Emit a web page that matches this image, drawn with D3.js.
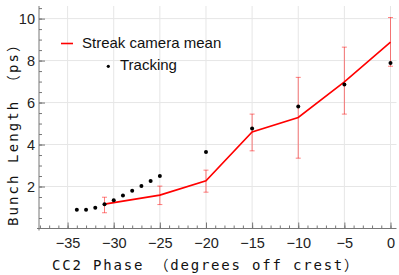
<!DOCTYPE html>
<html>
<head>
<meta charset="utf-8">
<script src="https://cdn.jsdelivr.net/npm/d3@7"></script>
<style>
  body { margin: 0; background: #fff; }
  svg { display: block; }
</style>
</head>
<body>
<div id="chart"></div>
<script>
// streak camera: phase, mean, error bar low/high
var streakPhase = [-31, -25, -20, -15, -10, -5, 0];
var streakMean  = [1.16, 1.59, 2.27, 4.6, 5.29, 6.99, 8.88];
var streakLow   = [0.75, 1.14, 1.73, 3.7, 3.35, 5.45, 7.73];
var streakHigh  = [1.49, 2.02, 2.78, 5.45, 7.2, 8.64, 10.05];

// tracking
var trackPhase = [-34, -33, -32, -31, -30, -29, -28, -27, -26, -25, -20, -15, -10, -5, 0];
var trackLen   = [0.89, 0.89, 0.99, 1.16, 1.35, 1.57, 1.8, 2.02, 2.26, 2.5, 3.64, 4.76, 5.81, 6.86, 7.89];

var xTicks = [-35, -30, -25, -20, -15, -10, -5, 0];
var yTicks = [2, 4, 6, 8, 10];

var W = 399, H = 275;
var svg = d3.select("#chart").append("svg").attr("width", W).attr("height", H);

// 画布范围
var x = d3.scaleLinear().domain([-38.1, 0.65]).range([39, 396.5]);
var y = d3.scaleLinear().domain([0, 10.6]).range([228.5, 6]);

// grid
var grid = svg.append("g").attr("stroke", "#e6e6e6").attr("stroke-width", 1);
grid.selectAll(".gx").data(xTicks).enter().append("line")
  .attr("x1", d => x(d)).attr("x2", d => x(d))
  .attr("y1", y.range()[0]).attr("y2", y.range()[1]);
grid.selectAll(".gy").data(yTicks).enter().append("line")
  .attr("y1", d => y(d)).attr("y2", d => y(d))
  .attr("x1", x.range()[0]).attr("x2", x.range()[1]);

// axes (ticks inward)
var axisColor = "#777";
var xMinor = d3.range(-38, 1, 1);
var yMinor = d3.range(0.5, 10.6, 0.5);

var xa = svg.append("g").attr("transform", `translate(0,${y(0)})`)
  .call(d3.axisBottom(x).tickValues(xMinor).tickSize(-3).tickFormat(""));
xa.select(".domain").remove();
xa.selectAll("line").attr("stroke", axisColor);
var xa2 = svg.append("g").attr("transform", `translate(0,${y(0)})`)
  .call(d3.axisBottom(x).tickValues(xTicks).tickSize(-6).tickPadding(9)
    .tickFormat(d => d < 0 ? "\u2212" + (-d) : d));
xa2.select(".domain").attr("stroke", axisColor).attr("d", `M${x.range()[0]-2},0H${x.range()[1]}`);
xa2.selectAll("line").attr("stroke", axisColor);
xa2.selectAll("text").attr("font-family", "Liberation Sans, Arial, sans-serif")
  .attr("font-size", 14.5).attr("fill", "#222");

var ya = svg.append("g").attr("transform", `translate(${x.range()[0]},0)`)
  .call(d3.axisLeft(y).tickValues(yMinor).tickSize(-3).tickFormat(""));
ya.select(".domain").remove();
ya.selectAll("line").attr("stroke", axisColor);
var ya2 = svg.append("g").attr("transform", `translate(${x.range()[0]},0)`)
  .call(d3.axisLeft(y).tickValues(yTicks).tickSize(-6).tickPadding(4));
ya2.select(".domain").attr("stroke", axisColor).attr("d", `M0,${y.range()[0]+2}V${y.range()[1]}`);
ya2.selectAll("line").attr("stroke", axisColor);
ya2.selectAll("text").attr("font-family", "Liberation Sans, Arial, sans-serif")
  .attr("font-size", 14.5).attr("fill", "#222");

// error bars
var eb = svg.append("g").attr("stroke", "rgba(255,0,0,0.5)").attr("stroke-width", 1);
streakPhase.forEach(function(p, i){
  eb.append("line").attr("x1", x(p)).attr("x2", x(p)).attr("y1", y(streakLow[i])).attr("y2", y(streakHigh[i]));
  eb.append("line").attr("x1", x(p)-2.5).attr("x2", x(p)+2.5).attr("y1", y(streakLow[i])).attr("y2", y(streakLow[i]));
  eb.append("line").attr("x1", x(p)-2.5).attr("x2", x(p)+2.5).attr("y1", y(streakHigh[i])).attr("y2", y(streakHigh[i]));
});

// mean line
var line = d3.line().x((d, i) => x(streakPhase[i])).y(d => y(d));
svg.append("path").datum(streakMean).attr("d", line)
  .attr("fill", "none").attr("stroke", "#f00").attr("stroke-width", 1.6);

// tracking points
svg.append("g").selectAll("circle").data(trackLen).enter().append("circle")
  .attr("cx", (d, i) => x(trackPhase[i])).attr("cy", d => y(d))
  .attr("r", 2).attr("fill", "#000");

// legend
var lg = svg.append("g").attr("font-family", "Liberation Sans, Arial, sans-serif").attr("font-size", 15).attr("fill", "#111");
lg.append("line").attr("x1", 61).attr("x2", 73).attr("y1", 43.5).attr("y2", 43.5)
  .attr("stroke", "#f00").attr("stroke-width", 1.6);
lg.append("text").attr("x", 82).attr("y", 47.5).text("Streak camera mean");
lg.append("circle").attr("cx", 108.3).attr("cy", 66.3).attr("r", 1.6).attr("fill", "#000");
lg.append("text").attr("x", 120).attr("y", 69.5).text("Tracking");

// axis titles
var labFont = "DejaVu Sans Mono, Noto Sans CJK JP, monospace";
svg.append("text").attr("x", 206).attr("y", 270).attr("text-anchor", "middle")
  .attr("font-family", labFont).attr("font-size", 14).attr("letter-spacing", 1.8)
  .attr("fill", "#111").text("CC2 Phase （degrees off crest）");
svg.append("text").attr("transform", "translate(18,131) rotate(-90)").attr("text-anchor", "middle")
  .attr("font-family", labFont).attr("font-size", 14).attr("letter-spacing", 2.1)
  .attr("fill", "#111").text("Bunch Length （ps）");
</script>
</body>
</html>
